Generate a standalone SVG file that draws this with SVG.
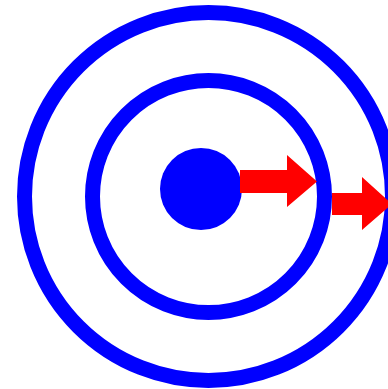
<svg xmlns="http://www.w3.org/2000/svg" width="388" height="389" viewBox="0 0 388 389">
  <style>
    .ring { fill: none; stroke: #0000ff; stroke-width: 15; }
    .core { fill: #0000ff; }
    .arrow { fill: #ff0000; }
  </style>
  <rect width="388" height="389" fill="#ffffff"/>
  <g id="outer-ring">
    <circle class="ring" cx="208.5" cy="196.5" r="184"/>
  </g>
  <g id="inner-ring">
    <circle class="ring" cx="208.5" cy="196.5" r="116"/>
  </g>
  <g id="core">
    <circle class="core" cx="201" cy="189" r="41"/>
  </g>
  <g id="connectors">
    <polygon class="arrow" points="240,170 287,170 287,155 317,181.5 287,207 287,193 240,193"/>
    <polygon class="arrow" points="332,193 362,193 362,177 392,204 362,230 362,215 332,215"/>
  </g>
</svg>
